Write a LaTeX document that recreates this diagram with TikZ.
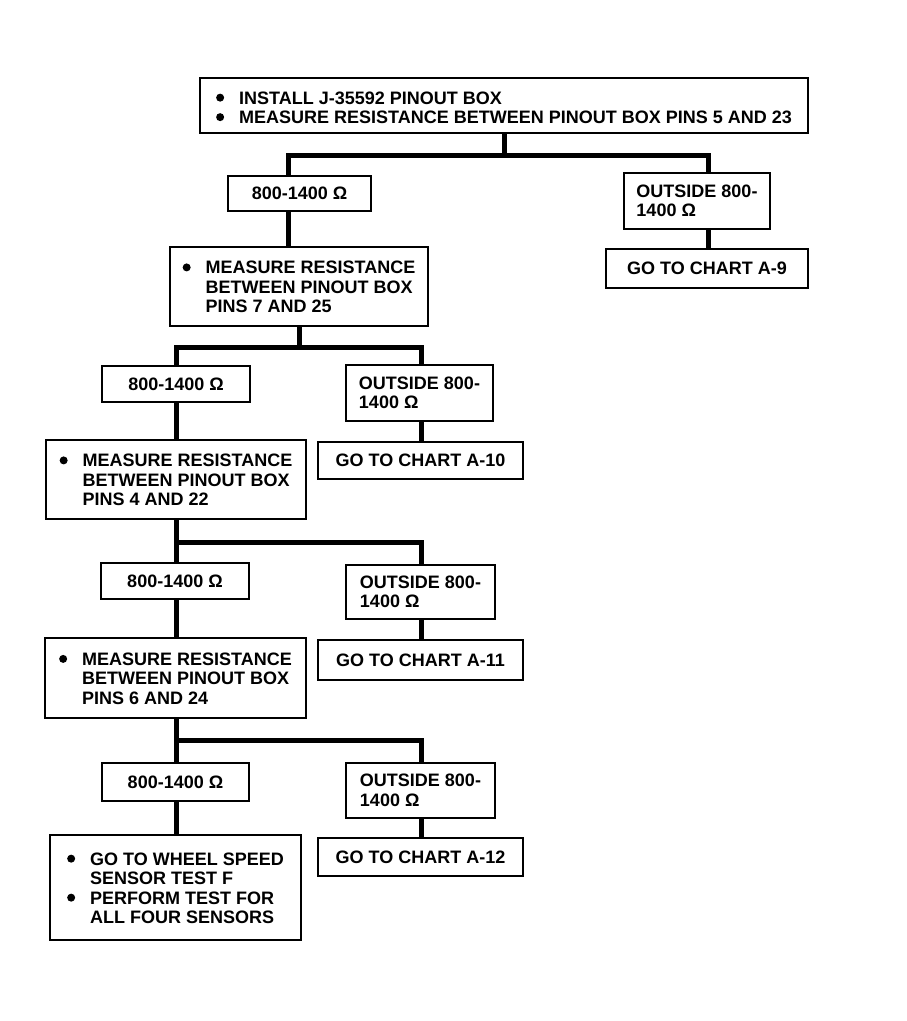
\documentclass[tikz,border=0pt]{standalone}
\usepackage{fontspec}
\newfontfamily\chartfont{Liberation Sans}
\newcommand{\dotmark}{\tikz[baseline=-6.5pt] \fill (0,0) circle (4pt);}
\newcommand{\bulletlist}[2][3pt]{\raisebox{-#1}[\height][\depth]{\begin{tabular}{@{}l@{\hspace{15pt}}l@{}}#2\end{tabular}}}
\tikzset{
	panel/.style={draw, line width=1.5pt, inner sep=0pt, align=left, font=\chartfont\bfseries\fontsize{18pt}{19.5pt}\selectfont},
	link/.style={line width=5pt}
}

\begin{document}
\begin{tikzpicture}[x=1pt, y=-1pt]
		%%%%% START %%%%%
		\useasboundingbox[fill=white] (0,0) rectangle (906,1021);
		
		\node[panel, minimum width=608pt, minimum height=55pt] (top) at (504,105.5) {\bulletlist[4.5pt]{\dotmark & INSTALL J-35592 PINOUT BOX\\ \dotmark & MEASURE RESISTANCE BETWEEN PINOUT BOX PINS 5 AND 23}};
		
		\node[panel, minimum width=143pt, minimum height=35pt] (rangeA) at (299.5,193.5) {800-1400 Ω};
		\node[panel, minimum width=146pt, minimum height=56pt] (outA) at (697,201) {OUTSIDE 800-\\1400 Ω};
		\node[panel, minimum width=202pt, minimum height=39pt] (goA9) at (707,268.5) {GO TO CHART A-9};
		\node[panel, minimum width=258pt, minimum height=79pt] (meas1) at (299,286.5) {\bulletlist{\dotmark & MEASURE RESISTANCE\\ & BETWEEN PINOUT BOX\\ & PINS 7 AND 25}};
		
		\node[panel, minimum width=148pt, minimum height=36pt] (rangeB) at (176,384) {800-1400 Ω};
		\node[panel, minimum width=147pt, minimum height=56pt] (outB) at (419.5,393) {OUTSIDE 800-\\1400 Ω};
		\node[panel, minimum width=205pt, minimum height=37pt] (goA10) at (420.5,460.5) {GO TO CHART A-10};
		\node[panel, minimum width=260pt, minimum height=79pt] (meas2) at (176,479.5) {\bulletlist{\dotmark & MEASURE RESISTANCE\\ & BETWEEN PINOUT BOX\\ & PINS 4 AND 22}};
		
		\node[panel, minimum width=148pt, minimum height=36pt] (rangeC) at (175,581) {800-1400 Ω};
		\node[panel, minimum width=149pt, minimum height=54pt] (outC) at (420.5,592) {OUTSIDE 800-\\1400 Ω};
		\node[panel, minimum width=205pt, minimum height=40pt] (goA11) at (420.5,660) {GO TO CHART A-11};
		\node[panel, minimum width=261pt, minimum height=80pt] (meas3) at (175.5,678) {\bulletlist{\dotmark & MEASURE RESISTANCE\\ & BETWEEN PINOUT BOX\\ & PINS 6 AND 24}};
		
		\node[panel, minimum width=147pt, minimum height=38pt] (rangeD) at (175.5,782) {800-1400 Ω};
		\node[panel, minimum width=149pt, minimum height=55pt] (outD) at (420.5,790.5) {OUTSIDE 800-\\1400 Ω};
		\node[panel, minimum width=205pt, minimum height=38pt] (goA12) at (420.5,857) {GO TO CHART A-12};
		\node[panel, minimum width=251pt, minimum height=105pt] (final) at (175.5,887.5) {\bulletlist{\dotmark & GO TO WHEEL SPEED\\ & SENSOR TEST F\\ \dotmark & PERFORM TEST FOR\\ & ALL FOUR SENSORS}};
		
		\coordinate (j1l) at (288,155);
		\coordinate (j1r) at (708,155);
		\draw[link] (top.south) -- (top.south |- j1l);
		\draw[link] (rangeA.north -| j1l) -- (j1l) -- (j1r) -- (outA.north -| j1r);
		\draw[link] (rangeA.south -| j1l) -- (meas1.north -| j1l);
		\draw[link] (outA.south -| j1r) -- (goA9.north -| j1r);
		
		\coordinate (j2l) at (176,347);
		\coordinate (j2r) at (421,347);
		\draw[link] (meas1.south) -- (meas1.south |- j2l);
		\draw[link] (rangeB.north -| j2l) -- (j2l) -- (j2r) -- (outB.north -| j2r);
		\draw[link] (rangeB.south -| j2l) -- (meas2.north -| j2l);
		\draw[link] (outB.south -| j2r) -- (goA10.north -| j2r);
		
		\coordinate (j3l) at (176,542);
		\coordinate (j3r) at (421,542);
		\draw[link] (meas2.south -| j3l) -- (rangeC.north -| j3l);
		\draw[link] (j3l) -- (j3r) -- (outC.north -| j3r);
		\draw[link] (rangeC.south -| j3l) -- (meas3.north -| j3l);
		\draw[link] (outC.south -| j3r) -- (goA11.north -| j3r);
		
		\coordinate (j4l) at (176,740);
		\coordinate (j4r) at (421,740);
		\draw[link] (meas3.south -| j4l) -- (rangeD.north -| j4l);
		\draw[link] (j4l) -- (j4r) -- (outD.north -| j4r);
		\draw[link] (rangeD.south -| j4l) -- (final.north -| j4l);
		\draw[link] (outD.south -| j4r) -- (goA12.north -| j4r);
		
		%%%%% END %%%%%
\end{tikzpicture}
\end{document}
